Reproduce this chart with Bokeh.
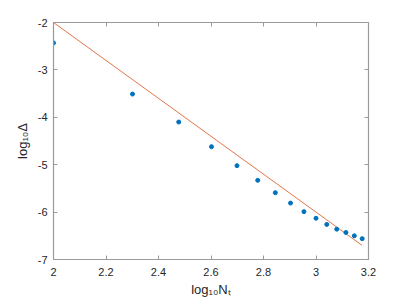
from bokeh.plotting import figure
from bokeh.models import Range1d, FixedTicker, LinearAxis
from bokeh.embed import file_html
from bokeh.resources import INLINE

# data: log10 of number of steps vs log10 of error
log_nt = [2.0, 2.301, 2.477, 2.602, 2.699, 2.778, 2.845, 2.903, 2.954, 3.0,
          3.041, 3.079, 3.114, 3.146, 3.176]
log_delta = [-2.43, -3.51, -4.10, -4.62, -5.02, -5.33, -5.59, -5.81, -5.99, -6.13,
             -6.26, -6.36, -6.43, -6.50, -6.56]
# reference slope line (order 4)
ref_x = [2.0, 3.176]
ref_y = [-2.0, -6.704]

x_ticks = [2, 2.2, 2.4, 2.6, 2.8, 3, 3.2]
x_tick_labels = ["2", "2.2", "2.4", "2.6", "2.8", "3", "3.2"]
y_ticks = [-7, -6, -5, -4, -3, -2]
y_tick_labels = ["-7", "-6", "-5", "-4", "-3", "-2"]

FONT = "Liberation Sans"
AX_COL = "#262626"

p = figure(width=399, height=299, output_backend="svg", toolbar_location=None,
           x_range=Range1d(2, 3.2), y_range=Range1d(-7, -2),
           min_border_left=53, min_border_right=31, min_border_top=22, min_border_bottom=39)
p.outline_line_color = None
p.grid.visible = False
p.background_fill_color = "white"
p.border_fill_color = "white"

p.line(ref_x, ref_y, line_color="#D95319", line_width=0.8)
p.scatter(log_nt, log_delta, marker="circle", size=4, fill_color="#0072BD", line_color="#0072BD")

def style(ax, ticks, labels, show_labels):
    ax.ticker = FixedTicker(ticks=ticks)
    ax.minor_tick_line_color = None
    ax.major_tick_in = 4
    ax.major_tick_out = 0
    ax.axis_line_color = "#9a9a9a"
    ax.major_tick_line_color = "#9a9a9a"
    ax.axis_line_width = 1.2
    ax.major_label_text_font = FONT
    ax.major_label_text_font_size = "11px"
    ax.major_label_text_color = AX_COL
    if show_labels:
        ax.major_label_overrides = {float(t): l for t, l in zip(ticks, labels)}
    else:
        ax.major_label_overrides = {float(t): "" for t in ticks}
        ax.major_label_standoff = 0

xa = p.xaxis[0]
ya = p.yaxis[0]
style(xa, x_ticks, x_tick_labels, True)
style(ya, y_ticks, y_tick_labels, True)
xa.major_label_standoff = 8
ya.major_label_standoff = 6

xa.axis_label = "log\u2081\u2080N\u209c"
ya.axis_label = "log\u2081\u2080\u0394"
for ax in (xa, ya):
    ax.axis_label_text_font = FONT
    ax.axis_label_text_font_size = "13px"
    ax.axis_label_text_font_style = "normal"
    ax.axis_label_text_color = AX_COL
xa.axis_label_standoff = 3
ya.axis_label_standoff = 5

top = LinearAxis()
right = LinearAxis()
style(top, x_ticks, x_tick_labels, False)
style(right, y_ticks, y_tick_labels, False)
p.add_layout(top, "above")
p.add_layout(right, "right")

open("out.html", "w").write(file_html(p, INLINE))
